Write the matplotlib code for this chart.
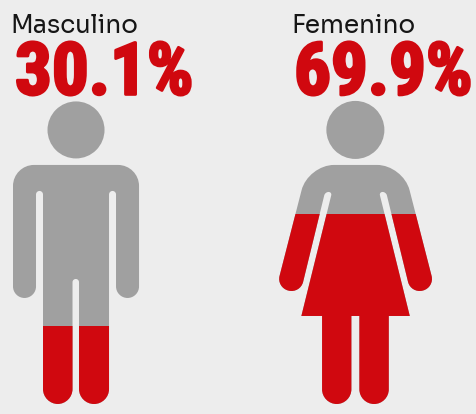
import numpy as np
import matplotlib
matplotlib.use('Agg')
import matplotlib.pyplot as plt
import matplotlib.patheffects as pe
from matplotlib.patches import Circle, PathPatch, Rectangle
from matplotlib.path import Path

# data
labels = ['Masculino', 'Femenino']
percent = [30.1, 69.9]

BG = '#ededed'
GREY = '#a0a0a0'
RED = '#d0080f'
INK = '#161616'

# pictogram scale: y pixel of the fill line for a given percentage
FILL_Y0 = 411.0
FILL_K = 2.814

# outlines as (x, y, corner size)
male = [(13, 165, 21), (139, 165, 21), (139, 298, 11.5), (116, 298, 11.5),
        (116, 191, 3.5), (109, 191, 3.5), (109, 404, 15), (79, 404, 15),
        (79, 279, 3.2), (72.5, 279, 3.2), (72.5, 404, 15), (43, 404, 15),
        (43, 191, 3.5), (36, 191, 3.5), (36, 298, 11.5), (13, 298, 11.5)]

female = [(308, 165, 26), (403, 165, 26), (434.5, 287.6, 12), (410.8, 293.6, 12),
          (386, 192, 3.5), (379, 192, 3.5), (409.7, 316, 0), (388.7, 316, 0),
          (388.7, 404, 14.7), (359.3, 404, 14.7), (359.3, 316, 0), (351.3, 316, 0),
          (351.3, 404, 14.7), (322, 404, 14.7), (322, 316, 0), (301.3, 316, 0),
          (332, 192, 3.5), (325, 192, 3.5), (300.2, 293.6, 12), (276.5, 287.6, 12)]


def rounded_path(pts):
    verts = []
    codes = []
    n = len(pts)
    for i in range(n):
        c = np.array(pts[i][:2], dtype=float)
        d = pts[i][2]
        prev = np.array(pts[i-1][:2], dtype=float)
        nxt = np.array(pts[(i+1) % n][:2], dtype=float)
        u0 = (prev - c)/np.linalg.norm(prev - c)
        u1 = (nxt - c)/np.linalg.norm(nxt - c)
        a = c + d*u0
        b = c + d*u1
        verts.append(a)
        codes.append(Path.MOVETO if i == 0 else Path.LINETO)
        if d > 0:
            verts += [a + 0.55*(c - a), b + 0.55*(c - b), b]
            codes += [Path.CURVE4]*3
    verts.append(verts[0])
    codes.append(Path.CLOSEPOLY)
    return Path(verts, codes)


# the small extra keeps the height from rounding down to 413 px
fig = plt.figure(figsize=(4.761, 4.141), dpi=100, facecolor=BG)
ax = fig.add_axes([0, 0, 1, 1])
ax.set_xlim(0, 476)
ax.set_ylim(414, 0)
ax.axis('off')

figures = [male, female]
heads = [(76, 130, 28.5), (355.3, 130, 29)]
label_x = [10.5, 291.5]
num_x = [15, 294]

for i in range(2):
    ax.add_patch(Circle(heads[i][:2], heads[i][2], fc=GREY, ec='none'))

    path = rounded_path(figures[i])
    ax.add_patch(PathPatch(path, fc=GREY, ec='none'))
    fill_y = FILL_Y0 - FILL_K*percent[i]
    red = PathPatch(path, fc=RED, ec='none')
    ax.add_patch(red)
    clip = Rectangle((0, fill_y), 476, 414 - fill_y, transform=ax.transData)
    red.set_clip_path(clip)

    ax.text(label_x[i], 33, labels[i], fontsize=17.8, color=INK,
            family=['Sora', 'DejaVu Sans'], ha='left', va='baseline')
    t = ax.text(num_x[i], 94.5, '%.1f%%' % percent[i], fontsize=52.5, color=RED,
                family=['Roboto Condensed', 'Liberation Sans'],
                fontweight='bold', ha='left', va='baseline')
    t.set_path_effects([pe.withStroke(linewidth=2, foreground=RED)])

fig.savefig('out.png', dpi=100, facecolor=BG)
